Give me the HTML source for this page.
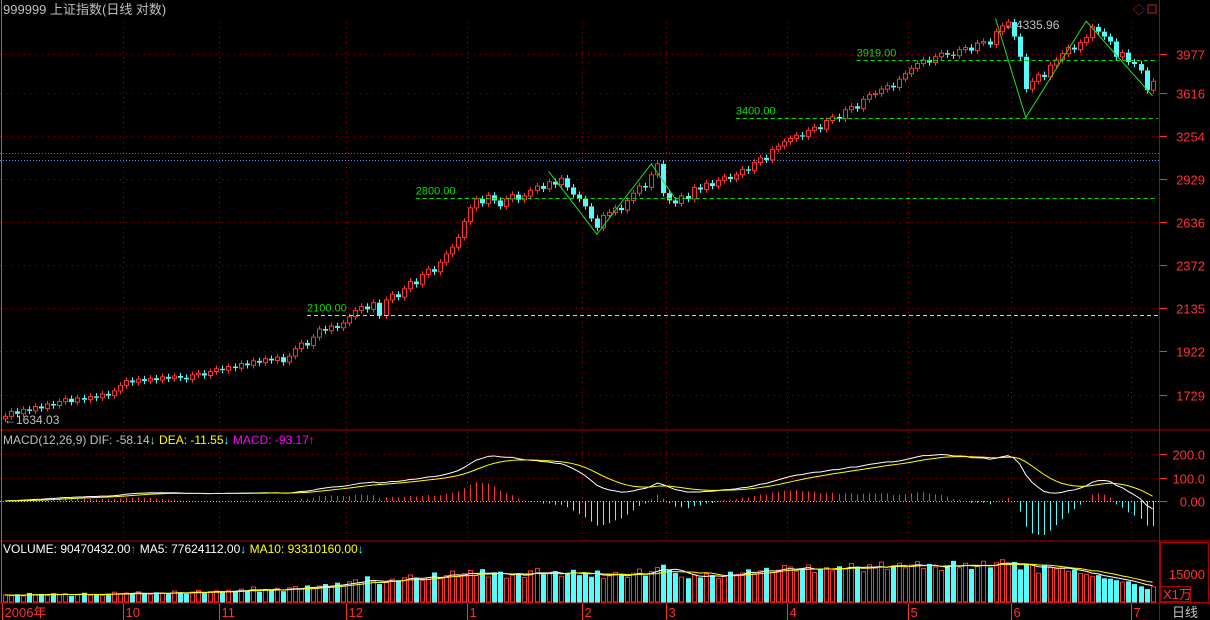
<!DOCTYPE html>
<html><head><meta charset="utf-8"><style>
html,body{margin:0;padding:0;background:#000;width:1210px;height:620px;overflow:hidden}
svg{display:block;font-family:"Liberation Sans","Noto Sans CJK SC",sans-serif}
</style></head><body>
<svg id="chart" width="1210" height="620" viewBox="0 0 1210 620" xmlns="http://www.w3.org/2000/svg">
<rect width="1210" height="620" fill="#000"/>
<g id="grid"></g>
<g id="candles"></g>
<g id="annot"></g>
<g id="macd"></g>
<g id="vol"></g>
<g id="frame">
<line x1="0" y1="430" x2="1210" y2="430" stroke="#b00000"/>
<line x1="0" y1="541" x2="1210" y2="541" stroke="#b00000"/>
<line x1="0" y1="603" x2="1210" y2="603" stroke="#b00000"/>
<line x1="1159.5" y1="0" x2="1159.5" y2="620" stroke="#b00000"/>
<line x1="1.5" y1="0" x2="1.5" y2="603" stroke="#a07030"/>
<rect x="1160.5" y="542.5" width="48" height="60" fill="none" stroke="#b00000"/>
<rect x="1160.5" y="586.5" width="30" height="15" fill="none" stroke="#b00000"/>
</g>
<text x="3" y="14" font-size="13" fill="#c0c0c0">999999 上证指数(日线 对数)</text>
<text x="1133" y="14" font-size="12" fill="#c02020">◇</text>
<rect x="1148" y="5" width="8" height="8" fill="none" stroke="#c02020"/>
<text x="3" y="444" font-size="12"><tspan fill="#c0c0c0">MACD(12,26,9) DIF: -58.14</tspan><tspan fill="#54fcfc">↓</tspan><tspan fill="#ffff00"> DEA: -11.55</tspan><tspan fill="#54fcfc">↓</tspan><tspan fill="#ff00ff"> MACD: -93.17</tspan><tspan fill="#ff3232">↑</tspan></text>
<text x="3" y="553" font-size="12"><tspan fill="#fff">VOLUME: 90470432.00</tspan><tspan fill="#ff3232">↑</tspan><tspan fill="#fff"> MA5: 77624112.00</tspan><tspan fill="#54fcfc">↓</tspan><tspan fill="#ffff00"> MA10: 93310160.00</tspan><tspan fill="#54fcfc">↓</tspan></text>
<text x="1163" y="599" font-size="13" fill="#ff3232">X1万</text>
<text x="1172" y="617" font-size="13" fill="#c0c0c0">日线</text>
</svg>
<script>
const closes=[1640,1660,1650,1668,1662,1680,1672,1690,1684,1700,1712,1698,1715,1708,1722,1716,1732,1725,1745,1768,
1790,1782,1796,1788,1800,1792,1806,1798,1810,1802,1795,1815,1822,1812,1830,1842,1836,
1852,1845,1866,1858,1878,1870,1888,1880,1895,1872,1900,1935,1962,1950,1990,2030,2022,2045,2036,2060,2092,
2125,2145,2130,2165,2098,2180,2210,2195,2240,2280,2265,2320,2350,2335,2390,2440,2480,2540,2640,
2730,2790,2760,2815,2780,2740,2790,2820,2785,2810,2850,2880,2860,2910,2890,2935,2870,2820,2790,2740,
2660,2600,2680,2700,2730,2715,2780,2830,2880,2870,2960,3040,2830,
2780,2760,2810,2790,2870,2855,2900,2880,2920,2945,2930,2960,3000,2990,3050,3085,3070,3150,3175,3210,
3235,3260,3250,3300,3325,3310,3380,3410,3395,3470,3500,3480,3560,3600,3610,3650,3680,3665,3740,3790,
3840,3885,3920,3895,3950,3985,3970,3960,4020,4040,4010,4085,4100,4070,4200,4260,4300,
4150,3950,3650,3720,3780,3760,3870,3920,3980,4040,4020,4090,4140,4250,4200,4150,4100,3950,3990,3900,
3880,3820,3640,3720];
const volumes=[4200,3800,4500,3600,5200,4100,4600,3900,5000,4400,4800,3700,4300,5300,4000,4600,3900,4700,5600,4800,
5200,4600,5800,4900,4300,5500,5100,4700,6200,5300,4800,5700,6500,5100,5900,6300,5600,
6600,5900,7200,6400,8300,5800,7000,6700,7600,6100,7800,8500,7200,9100,7600,8800,9800,8300,10500,9200,11000,
12000,10500,13800,11200,9800,10600,12400,11800,13000,14500,12800,11600,13200,15800,12600,14200,16500,13600,15200,
16800,14200,17500,13400,15800,16200,12800,14600,15400,13200,16600,17800,14800,15200,16400,13800,15600,17200,14400,15000,
13600,16800,12600,14000,15800,14600,13200,15400,17600,14200,16200,18400,19800,
17200,15600,13400,12800,14600,13200,15000,14400,12600,13800,16200,14800,15600,17400,15200,16600,18200,15800,17000,19400,
18600,16400,17800,19600,15800,17200,18400,16600,19000,17600,20400,18800,16200,19800,18000,21200,17400,19200,20600,18200,
19600,21400,17800,20200,18600,16800,19400,21800,18200,20600,17600,19000,21600,18400,20800,22400,19800,
21200,17400,20400,19600,15400,19800,18200,17600,18600,16400,17200,15200,14800,13600,14400,12800,12600,11800,10800,11200,
9800,8600,7200,8400];
const priceTicks=[3977,3616,3254,2929,2636,2372,2135,1922,1729];
const macdTicks=[200,100,0];
const macdTickLabels=["200.0","100.0","0.00"];
const monthLabels=["2006年","10","11","12","1","2","3","4","5","6","7"];
const monthStarts=[0,20,36,57,77,96,110,130,150,167,187];
const supportLevels=[3919,3400,2800,2100];
const supportStart=[141,121,68,50];
const zig1=[[90,2985],[98,2560],[107,3040],[111,2790]];
const zig2=[[164,4335.96],[169,3405],[179,4310],[190,3590]];

const NS="http://www.w3.org/2000/svg";
function mk(tag,attrs,parent){const e=document.createElementNS(NS,tag);for(const k in attrs)e.setAttribute(k,attrs[k]);parent.appendChild(e);return e;}
const X=i=>5+i*6.04;
const PY=p=>54+409*Math.log(3977/p);
const MY=v=>501-v*0.235;
const VY=v=>603-v*29/15000;
const RED="#ff3232",CYAN="#54fcfc";
const grid=document.getElementById('grid');
priceTicks.forEach((p,k)=>{
 const y=Math.round(PY(p))+0.5;
 const l=mk('line',{x1:0,y1:y,x2:1159,y2:y,stroke:"#900000","stroke-dasharray":"1,5"},grid);
 
 
 const t=mk('line',{x1:1159,y1:y,x2:1167,y2:y,stroke:RED},grid);
 
 
 const tx=mk('text',{x:1205,y:y+5,"font-size":13,fill:RED,"text-anchor":"end"},grid);
 tx.textContent=p;
 
 
});
mk('line',{x1:0,y1:153.5,x2:1159,y2:153.5,stroke:"#b040c0","stroke-dasharray":"1,2"},grid);
mk('line',{x1:0,y1:160.5,x2:1159,y2:160.5,stroke:"#5090ff","stroke-dasharray":"1,2"},grid);
monthStarts.forEach((m,k)=>{
 const x=Math.round(X(m)-3)+0.5;
 if(k>0){
  const v=mk('line',{x1:x,y1:22,x2:x,y2:541,stroke:"#b00000","stroke-dasharray":"1,4"},grid);
  
  
 }
 const t=mk('line',{x1:x,y1:603,x2:x,y2:620,stroke:RED},grid);
 
 
 const tx=mk('text',{x:x+2,y:617,"font-size":13,fill:RED},grid);
 tx.textContent=monthLabels[k];
 
 
});
macdTicks.forEach((v,k)=>{
 const y=Math.round(MY(v))+0.5;
 if(v!==0){const l=mk('line',{x1:0,y1:y,x2:1159,y2:y,stroke:"#900000","stroke-dasharray":"1,5"},grid);
 
 }
 mk('line',{x1:1159,y1:y,x2:1167,y2:y,stroke:RED},grid);
 const tx=mk('text',{x:1205,y:y+5,"font-size":13,fill:RED,"text-anchor":"end"},grid);
 tx.textContent=macdTickLabels[k];
 
 
});
mk('line',{x1:0,y1:501.5,x2:1159,y2:501.5,stroke:"#c0c0c0","stroke-dasharray":"1,2"},grid);
const vt=mk('text',{x:1205,y:579,"font-size":13,fill:RED,"text-anchor":"end"},grid);
vt.textContent="15000";



const cg=document.getElementById('candles');
const opens=closes.map((c,i)=>i===0?1630:closes[i-1]);
closes.forEach((c,i)=>{
 const o=opens[i],up=c>=o,col=up?RED:CYAN;
 const hi=Math.max(o,c)*1.008,lo=Math.min(o,c)*0.992;
 const x=Math.round(X(i));
 const g=mk('g',{},cg);
 
 
 const yt=PY(Math.max(o,c)),yb=PY(Math.min(o,c));
 mk('line',{x1:x+0.5,y1:PY(hi),x2:x+0.5,y2:yt,stroke:col},g);
 mk('line',{x1:x+0.5,y1:yb,x2:x+0.5,y2:PY(lo),stroke:col},g);
 if(up) mk('rect',{x:x-1.5,y:yt,width:4,height:Math.max(1,yb-yt),fill:"#000",stroke:col},g);
 else mk('rect',{x:x-2,y:yt,width:5,height:Math.max(1,yb-yt),fill:col},g);
});
const an=document.getElementById('annot');
supportLevels.forEach((p,k)=>{
 const y=Math.round(PY(p))+0.5,x0=X(supportStart[k]);
 const col=p===2100?"#d0d0d0":"#00e000";
 const l=mk('line',{x1:x0,y1:y,x2:1158,y2:y,stroke:col,"stroke-dasharray":"4,3"},an);
 
 
 const t=mk('text',{x:x0,y:y-4,"font-size":11,fill:"#00e000"},an);
 t.textContent=p.toFixed(2);
 
 
});
[zig1,zig2].forEach(z=>{
 const pl=mk('polyline',{points:z.map(q=>X(q[0])+","+PY(q[1])).join(" "),fill:"none",stroke:"#20e020"},an);
 
 
});
const hl=mk('text',{x:1004,y:29,"font-size":12,fill:"#c0c0c0"},an);hl.textContent="←4335.96";


const ll=mk('text',{x:4,y:424,"font-size":12,fill:"#c0c0c0"},an);ll.textContent="←1634.03";



function ema(a,n){const k=2/(n+1);const r=[];a.forEach((v,i)=>r.push(i?r[i-1]+k*(v-r[i-1]):v));return r;}
const e12=ema(closes,12),e26=ema(closes,26);
const dif=e12.map((v,i)=>v-e26[i]);
const dea=ema(dif,9);
const mg=document.getElementById('macd');
dif.forEach((d,i)=>{
 const h=(d-dea[i])*2,x=Math.round(X(i))+0.5;
 const b=mk('line',{x1:x,y1:MY(0),x2:x,y2:MY(h),stroke:h>=0?RED:CYAN},mg);
 
 
});
const dl=mk('polyline',{points:dif.map((v,i)=>X(i)+","+MY(v)).join(" "),fill:"none",stroke:"#fff"},mg);


const el=mk('polyline',{points:dea.map((v,i)=>X(i)+","+MY(v)).join(" "),fill:"none",stroke:"#ffff00"},mg);



const vg=document.getElementById('vol');
volumes.forEach((v,i)=>{
 const up=closes[i]>=opens[i],x=Math.round(X(i));
 const y=VY(v);
 const r=up?mk('rect',{x:x-1.5,y:y,width:4,height:602-y,fill:"#000",stroke:RED},vg)
           :mk('rect',{x:x-2,y:y,width:5,height:603-y,fill:CYAN},vg);
 
 
});
function ma(a,n){return a.map((v,i)=>{const s=a.slice(Math.max(0,i-n+1),i+1);return s.reduce((p,q)=>p+q,0)/s.length;});}
const m5=ma(volumes,5),m10=ma(volumes,10);
const l5=mk('polyline',{points:m5.map((v,i)=>X(i)+","+VY(v)).join(" "),fill:"none",stroke:"#fff"},vg);


const l10=mk('polyline',{points:m10.map((v,i)=>X(i)+","+VY(v)).join(" "),fill:"none",stroke:"#ffff00"},vg);


</script>
</body></html>
